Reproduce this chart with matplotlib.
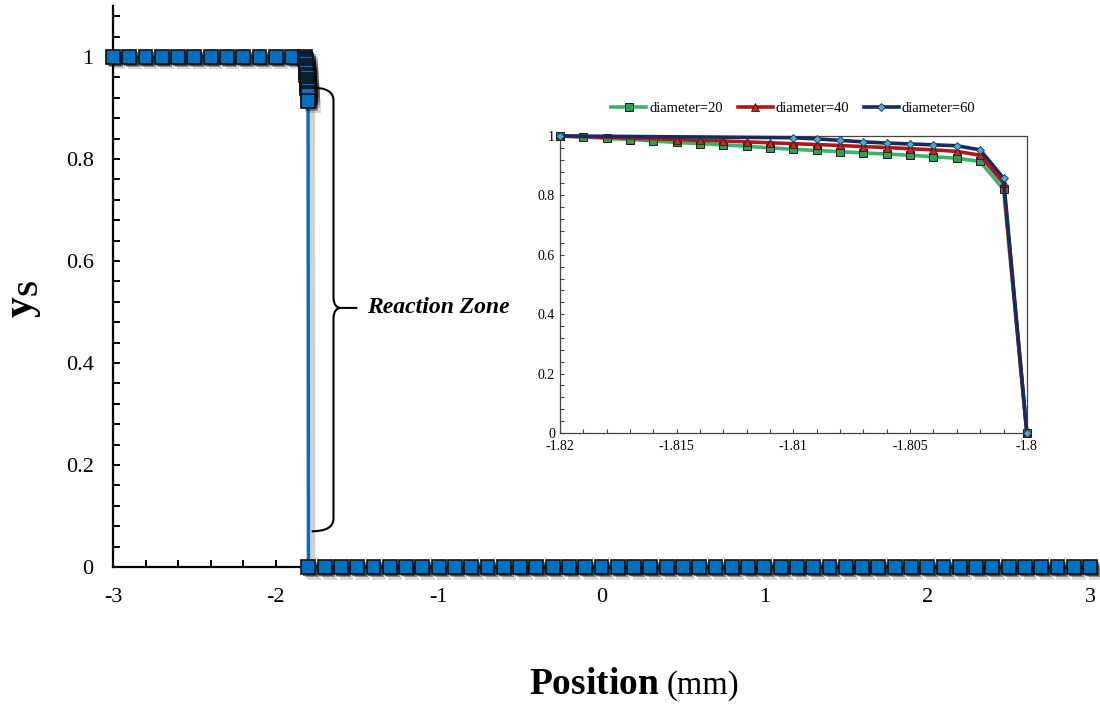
import matplotlib
matplotlib.use("Agg")
import matplotlib.pyplot as plt
import matplotlib.patheffects as pe
from matplotlib.path import Path
from matplotlib.patches import PathPatch
from matplotlib.ticker import MultipleLocator, FuncFormatter

plt.rcParams['font.family'] = ['Liberation Serif', 'DejaVu Serif']
plt.rcParams['axes.unicode_minus'] = False
plt.rcParams['mathtext.fontset'] = 'custom'
plt.rcParams['mathtext.bf'] = 'Liberation Serif:bold'
plt.rcParams['mathtext.rm'] = 'Liberation Serif'

# ---------------- data ----------------
# main chart: solid fraction ys vs position (mm)
x_left = [-3.0, -2.9, -2.8, -2.7, -2.6, -2.5, -2.4, -2.3, -2.2, -2.1, -2.0, -1.9]
y_left = [1.0] * len(x_left)
x_zone = [-1.820, -1.819, -1.818, -1.817, -1.816, -1.815, -1.814, -1.813, -1.812,
          -1.811, -1.810, -1.809, -1.808, -1.807, -1.806, -1.805, -1.804, -1.803, -1.802]
y_zone = [1.000, 0.996, 0.992, 0.988, 0.983, 0.978, 0.974, 0.970, 0.965,
          0.960, 0.955, 0.951, 0.947, 0.943, 0.939, 0.935, 0.930, 0.925, 0.914]
x_right = [-1.8, -1.7, -1.6, -1.5, -1.4, -1.3, -1.2, -1.1, -1.0, -0.9, -0.8, -0.7,
           -0.6, -0.5, -0.4, -0.3, -0.2, -0.1, 0.0, 0.1, 0.2, 0.3, 0.4, 0.5, 0.6,
           0.7, 0.8, 0.9, 1.0, 1.1, 1.2, 1.3, 1.4, 1.5, 1.6, 1.7, 1.8, 1.9, 2.0,
           2.1, 2.2, 2.3, 2.4, 2.5, 2.6, 2.7, 2.8, 2.9, 3.0]
y_right = [0.0] * len(x_right)

main_x = x_left + x_zone + x_right
main_y = y_left + y_zone + y_right
main_xticks = [-3, -2, -1, 0, 1, 2, 3]
main_yticks = [0, 0.2, 0.4, 0.6, 0.8, 1]

# inset: three diameters
x_d20 = [-1.820, -1.819, -1.818, -1.817, -1.816, -1.815, -1.814, -1.813, -1.812, -1.811,
         -1.810, -1.809, -1.808, -1.807, -1.806, -1.805, -1.804, -1.803, -1.802, -1.801, -1.800]
y_d20 = [1.000, 0.996, 0.992, 0.988, 0.983, 0.978, 0.974, 0.970, 0.965, 0.960,
         0.955, 0.951, 0.947, 0.943, 0.939, 0.935, 0.930, 0.925, 0.914, 0.820, 0.0]
x_d40 = [-1.820, -1.815, -1.814, -1.813, -1.812, -1.811, -1.810, -1.809, -1.808,
         -1.807, -1.806, -1.805, -1.804, -1.803, -1.802, -1.801, -1.800]
y_d40 = [1.000, 0.988, 0.985, 0.983, 0.980, 0.977, 0.974, 0.971, 0.968,
         0.964, 0.961, 0.957, 0.953, 0.948, 0.935, 0.840, 0.0]
x_d60 = [-1.820, -1.810, -1.809, -1.808, -1.807, -1.806, -1.805, -1.804, -1.803,
         -1.802, -1.801, -1.800]
y_d60 = [1.000, 0.994, 0.990, 0.985, 0.980, 0.976, 0.973, 0.970, 0.967,
         0.953, 0.858, 0.0]
inset_labels = ['diameter=20', 'diameter=40', 'diameter=60']
inset_xticks = [-1.82, -1.815, -1.81, -1.805, -1.8]
inset_yticks = [0, 0.2, 0.4, 0.6, 0.8, 1]

# ---------------- figure ----------------
fig = plt.figure(figsize=(11, 7.04), dpi=100)
ax = fig.add_axes([0.1027, 0.1946, 0.8883, 0.7969])

line_shadow = [pe.SimpleLineShadow(offset=(3, -2), shadow_color='black', alpha=0.18,
                                   linewidth=4), pe.Normal()]
mark_shadow = [pe.SimplePatchShadow(offset=(4, -4), shadow_rgbFace='black', alpha=0.15),
               pe.SimplePatchShadow(offset=(2.5, -2.5), shadow_rgbFace='black', alpha=0.35),
               pe.SimplePatchShadow(offset=(1.2, -1.2), shadow_rgbFace='black', alpha=0.5),
               pe.Normal()]
ax.plot(main_x, main_y, color='#0070C0', lw=2.5, linestyle='-',
        clip_on=False, zorder=3, path_effects=line_shadow)
ax.plot(main_x, main_y, linestyle='none', marker='s', markersize=10,
        markerfacecolor='#0070C0', markeredgecolor='#111111', markeredgewidth=1.2,
        clip_on=False, zorder=3, path_effects=mark_shadow)

ax.set_xlim(-3, 3)
ax.set_ylim(0, 1.1)
ax.set_xticks(main_xticks)
ax.set_yticks(main_yticks)
ax.xaxis.set_minor_locator(MultipleLocator(0.2))
ax.yaxis.set_minor_locator(MultipleLocator(0.04))
fmt = FuncFormatter(lambda v, p: '%g' % v)
ax.xaxis.set_major_formatter(fmt)
ax.yaxis.set_major_formatter(fmt)
for s in ['top', 'right']:
    ax.spines[s].set_visible(False)
for s in ['left', 'bottom']:
    ax.spines[s].set_linewidth(1.6)
ax.tick_params(which='both', direction='in', width=1.4, labelsize=16)
ax.tick_params(which='major', length=5)
ax.tick_params(which='minor', length=5)
ax.tick_params(axis='x', pad=15)
ax.tick_params(axis='y', pad=14)

# brace for reaction zone
xv = -1.646
verts = [(-1.78, 0.94), (xv, 0.94), (xv, 0.915), (xv, 0.53), (xv, 0.508), (-1.60, 0.508),
         (-1.60, 0.508), (xv, 0.508), (xv, 0.486), (xv, 0.095), (xv, 0.07), (-1.78, 0.07),
         (-1.60, 0.508), (-1.50, 0.508)]
codes = [Path.MOVETO, Path.CURVE3, Path.CURVE3, Path.LINETO, Path.CURVE3, Path.CURVE3,
         Path.MOVETO, Path.CURVE3, Path.CURVE3, Path.LINETO, Path.CURVE3, Path.CURVE3,
         Path.MOVETO, Path.LINETO]
ax.add_patch(PathPatch(Path(verts, codes), facecolor='none', edgecolor='black',
                       lw=1.5, clip_on=False, zorder=4))
ax.text(-1.44, 0.508, 'Reaction Zone', fontsize=17, fontweight='bold', fontstyle='italic',
        ha='left', va='center')

# axis labels
fig.text(0.6, 0.014, r'$\mathbf{Position}$', fontsize=27, ha='right', va='baseline')
fig.text(0.606, 0.014, '(mm)', fontsize=23.5, ha='left', va='baseline')
fig.text(0.022, 0.575, r'$\mathbf{y}_\mathbf{S}$', fontsize=30, rotation=90,
         ha='center', va='center')

# ---------------- inset ----------------
axi = fig.add_axes([0.509, 0.385, 0.4245, 0.4219])
l1, = axi.plot(x_d20, y_d20, color='#3CB36A', lw=2.6, marker='s', markersize=5.5,
               markerfacecolor='#2E9E5B', markeredgecolor='#1a1a1a', markeredgewidth=0.7,
               clip_on=False, zorder=3)
l2, = axi.plot(x_d40, y_d40, color='#B01818', lw=2.6, marker='^', markersize=5.5,
               markerfacecolor='#C0282A', markeredgecolor='#3a1010', markeredgewidth=0.6,
               clip_on=False, zorder=4)
l3, = axi.plot(x_d60, y_d60, color='#1B2A5E', lw=2.6, marker='D', markersize=4,
               markerfacecolor='#4BACC6', markeredgecolor='#1B2A5E', markeredgewidth=0.6,
               clip_on=False, zorder=5)
axi.set_xlim(-1.82, -1.8)
axi.set_ylim(0, 1)
axi.set_xticks(inset_xticks)
axi.set_yticks(inset_yticks)
axi.xaxis.set_minor_locator(MultipleLocator(0.001))
axi.yaxis.set_minor_locator(MultipleLocator(0.04))
axi.xaxis.set_major_formatter(fmt)
axi.yaxis.set_major_formatter(fmt)
for s in axi.spines.values():
    s.set_linewidth(0.9)
    s.set_color('#444444')
axi.tick_params(which='both', direction='in', length=3, width=0.8, labelsize=10,
                color='#444444')
axi.tick_params(axis='x', pad=5)
axi.legend([l1, l2, l3], inset_labels, loc='lower center', bbox_to_anchor=(0.5, 1.05),
           ncol=3, frameon=False, fontsize=10.5, handlelength=2.4, handletextpad=0.2,
           columnspacing=1.0, borderaxespad=0)

fig.savefig('out.png', dpi=100)
